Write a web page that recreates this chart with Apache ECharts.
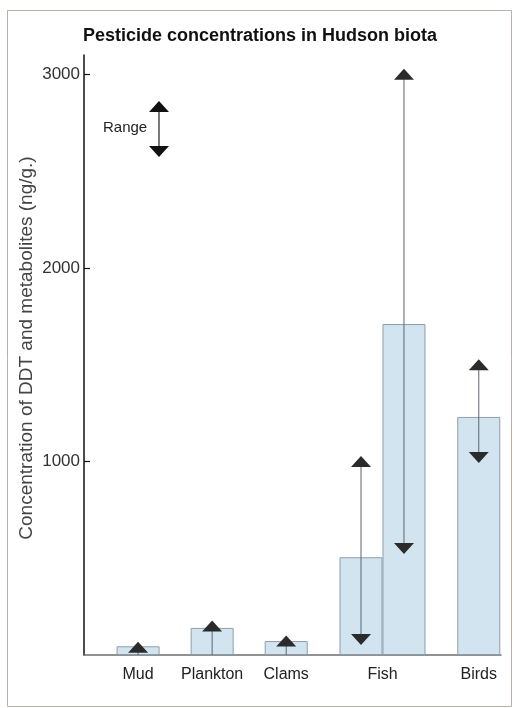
<!DOCTYPE html>
<html>
<head>
<meta charset="utf-8">
<script src="https://cdn.jsdelivr.net/npm/echarts@6/dist/echarts.min.js"></script>
<style>html,body{margin:0;padding:0;background:#fff}#c{width:514px;height:708px}</style>
</head>
<body>
<div id="c"></div>
<script>
// ---- data ----
const titleText = 'Pesticide concentrations in Hudson biota';
const yAxisName = 'Concentration of DDT and metabolites (ng/g.)';
const categories = ['Mud', 'Plankton', 'Clams', 'Fish', 'Birds'];
const barCategory = ['Mud', 'Plankton', 'Clams', 'Fish', 'Fish', 'Birds'];
const barValues = [45, 140, 72, 505, 1710, 1230];
const rangeLow = [0, 0, 0, 80, 550, 1020];
const rangeHigh = [40, 150, 72, 1000, 3000, 1500];
const yTicks = [1000, 2000, 3000];
const legendLabel = 'Range';

// ---- layout ----
const catPos = [1, 2, 3, 4.3, 5.6];
const barStep = 0.58;

function posOf(cat) { return catPos[categories.indexOf(cat)]; }
const barX = barCategory.map((c, i) => {
  const group = barCategory.map((d, j) => d === c ? j : -1).filter(j => j >= 0);
  const k = group.indexOf(i);
  return posOf(c) + (k - (group.length - 1) / 2) * barStep;
});

const barData = barValues.map((v, i) => [barX[i], v]);
const rangeData = barValues.map((v, i) => [barX[i], rangeLow[i], rangeHigh[i]]);

const TRI_W = 20, TRI_H = 11;
function tri(cx, cy, up, color) {
  const h = TRI_H / 2, w = TRI_W / 2;
  const pts = up ? [[cx, cy - h], [cx - w, cy + h], [cx + w, cy + h]]
                 : [[cx, cy + h], [cx - w, cy - h], [cx + w, cy - h]];
  return { type: 'polygon', shape: { points: pts }, style: { fill: color } };
}

const chart = echarts.init(document.getElementById('c'), null, { renderer: 'canvas' });
chart.setOption({
  animation: false,
  backgroundColor: '#ffffff',
  title: {
    text: titleText, left: 78, top: 22,
    textStyle: { fontFamily: 'Liberation Sans', fontWeight: 'bold', fontSize: 18, color: '#111' }
  },
  grid: { left: 84, right: 13, top: 55, bottom: 53 },
  xAxis: {
    type: 'value', min: 0.27, max: 5.9,
    splitLine: { show: false },
    axisLine: { show: true, lineStyle: { color: '#6d6d6d', width: 1.5 } },
    axisTick: { show: false },
    axisLabel: {
      customValues: catPos,
      margin: 12,
      fontFamily: 'Liberation Sans', fontSize: 16, color: '#222',
      formatter: function (v) {
        let best = 0, d = 1e9;
        catPos.forEach((p, i) => { if (Math.abs(p - v) < d) { d = Math.abs(p - v); best = i; } });
        return categories[best];
      }
    }
  },
  yAxis: {
    type: 'value', min: 0, max: 3100, interval: 1000,
    name: yAxisName, nameLocation: 'middle', nameGap: 48, nameMoveOverlap: false,
    nameTextStyle: { fontFamily: 'Liberation Sans', fontSize: 19, color: '#444', padding: [0, 0, 0, 14] },
    splitLine: { show: false },
    axisLine: { show: true, lineStyle: { color: '#111', width: 1.5 } },
    axisTick: { show: true, inside: true, length: 6, customValues: yTicks, lineStyle: { color: '#111', width: 1.2 } },
    axisLabel: { customValues: yTicks, margin: 4, fontFamily: 'Liberation Sans', fontSize: 17, color: '#333',
      formatter: function (v) { return String(v); } }
  },
  series: [
    {
      type: 'bar', data: barData, barWidth: 43,
      itemStyle: { color: '#d2e4f0', borderColor: '#8d9eab', borderWidth: 1 },
      z: 2
    },
    {
      type: 'custom', data: rangeData, z: 3,
      renderItem: function (params, api) {
        const x = api.value(0), lo = api.value(1), hi = api.value(2);
        const pHi = api.coord([x, hi]);
        const pLo = api.coord([x, lo]);
        const children = [
          { type: 'line', shape: { x1: pHi[0], y1: pHi[1], x2: pLo[0], y2: pLo[1] },
            style: { stroke: '#5c6770', lineWidth: 1 } },
          tri(pHi[0], pHi[1], true, '#2b2b2b')
        ];
        if (lo > 0) children.push(tri(pLo[0], pLo[1], false, '#2b2b2b'));
        return { type: 'group', children: children };
      }
    }
  ],
  graphic: [
    { type: 'rect', shape: { x: 7.5, y: 10.5, width: 504, height: 696 },
      style: { fill: 'none', stroke: '#b9b1a6', lineWidth: 1 }, silent: true },
    { type: 'text', left: 103, top: 120,
      style: { text: legendLabel, font: '15px "Liberation Sans"', fill: '#222' } },
    { type: 'group', children: [
      { type: 'line', shape: { x1: 159, y1: 106, x2: 159, y2: 152 }, style: { stroke: '#222', lineWidth: 1.2 } },
      tri(159, 106.5, true, '#111'),
      tri(159, 151.5, false, '#111')
    ] }
  ]
});
</script>
</body>
</html>
